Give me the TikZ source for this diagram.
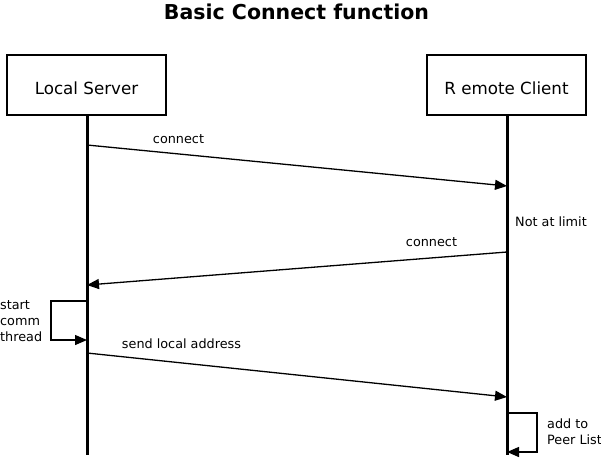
\documentclass[tikz,border=0pt]{standalone}
\usepackage{fontspec}
\setmainfont{DejaVu Sans}
\usetikzlibrary{arrows.meta}
\begin{document}
\begin{tikzpicture}[x=1pt,y=-1pt,
  actor/.style={draw,line width=1.3pt,minimum width=159pt,minimum height=60pt,inner sep=0pt,text height=22pt,text depth=3.5pt,font=\fontsize{16.7}{19}\selectfont},
  life/.style={line width=3pt},
  msg/.style={line width=1.3pt,-{Triangle[length=12pt,width=10pt]}},
  lbl/.style={font=\fontsize{12.8}{16}\selectfont,inner sep=0pt},
  multi/.style={font=\fontsize{12.8}{16}\selectfont,inner sep=0pt,align=left}]
\useasboundingbox (0,0) rectangle (601,458);
\node[font=\bfseries\fontsize{20.5}{24}\selectfont,inner sep=0pt] (title) at (296.5,11.5) {Basic Connect function};
\node[actor] (ls) at (86.5,85) {Local Server};
\node[actor] (rc) at (506.5,85) {R emote Client};
\coordinate (lsend) at (87,455);
\coordinate (rcend) at (507,455);
\draw[life] (ls.south -| lsend) -- (lsend);
\draw[life] (rc.south -| rcend) -- (rcend);
% message 1
\coordinate (m1a) at (87,145);
\coordinate (m1b) at (507,186);
\draw[msg] (m1a) -- (m1b);
\node[lbl] (l1) at (178.5,139) {connect};
\node[lbl,anchor=west] (nal) at (515,222) {Not at limit};
% message 2
\coordinate (m2a) at (507,252);
\coordinate (m2b) at (87,285);
\draw[msg] (m2a) -- (m2b);
\node[lbl] (l2) at (431.5,242) {connect};
% self loop left
\coordinate (s1a) at (87,301);
\coordinate (s1b) at (87,340);
\draw[msg] (s1a) -- (51,301) -- (51,340) -- (s1b);
\node[multi,anchor=west] (st) at (0,321) {start\\comm\\thread};
% message 3
\coordinate (m3a) at (87,353);
\coordinate (m3b) at (507,397);
\draw[msg] (m3a) -- (m3b);
\node[lbl] (l3) at (181.5,344) {send local address};
% self loop right
\coordinate (s2a) at (507,413);
\coordinate (s2b) at (507,452);
\draw[msg] (s2a) -- (537,413) -- (537,452) -- (s2b);
\node[multi,anchor=west] (ap) at (547,432) {add to\\Peer List};
\end{tikzpicture}
\end{document}
